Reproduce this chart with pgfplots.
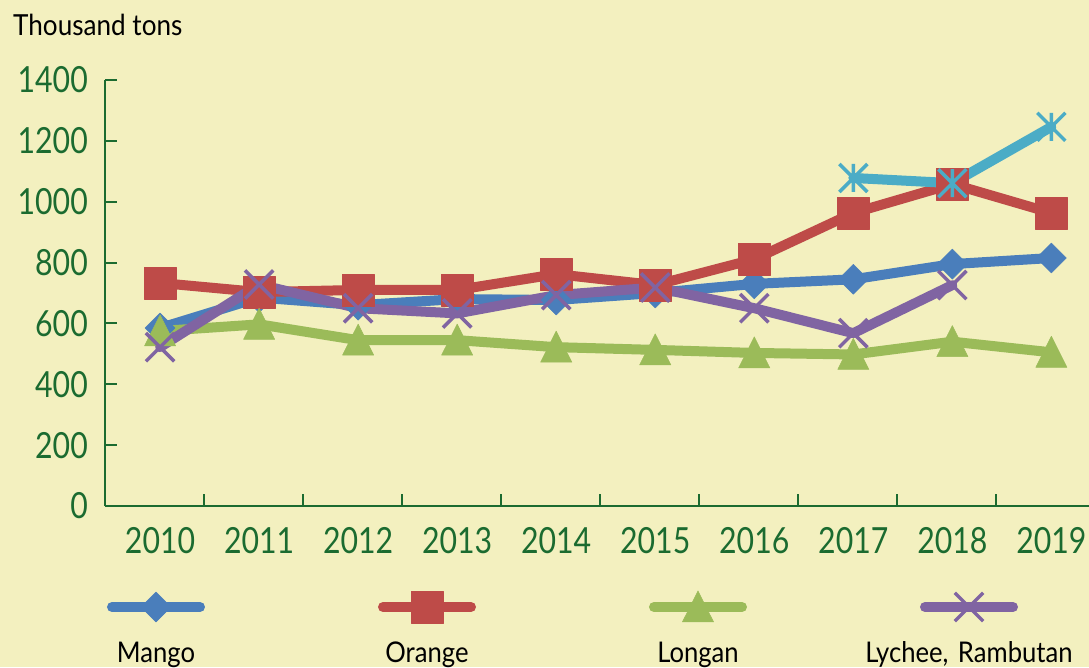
\documentclass[border=0pt]{standalone}
\usepackage{fontspec}
\setmainfont{Lato}[FakeStretch=0.9]
\newfontfamily\tickfont{Lato}[FakeStretch=0.84]
\usepackage{pgfplots}
\pgfplotsset{compat=1.18}
\definecolor{bgc}{RGB}{243,240,191}
\definecolor{axc}{RGB}{27,107,48}
\definecolor{cblue}{RGB}{74,126,187}
\definecolor{cred}{RGB}{190,75,72}
\definecolor{cgreen}{RGB}{155,187,89}
\definecolor{cpurple}{RGB}{128,100,162}
\definecolor{ccyan}{RGB}{75,172,198}
\pgfdeclareplotmark{starx}{%
 \pgfpathmoveto{\pgfqpoint{0pt}{-\pgfplotmarksize}}\pgfpathlineto{\pgfqpoint{0pt}{\pgfplotmarksize}}%
 \pgfpathmoveto{\pgfqpoint{-\pgfplotmarksize}{-\pgfplotmarksize}}\pgfpathlineto{\pgfqpoint{\pgfplotmarksize}{\pgfplotmarksize}}%
 \pgfpathmoveto{\pgfqpoint{-\pgfplotmarksize}{\pgfplotmarksize}}\pgfpathlineto{\pgfqpoint{\pgfplotmarksize}{-\pgfplotmarksize}}%
 \pgfusepathqstroke}
\begin{document}
\begin{tikzpicture}
\fill[bgc] (0,0) rectangle (1089pt,667pt);
\begin{axis}[
  at={(105pt,161pt)}, anchor=south west,
  scale only axis, width=984pt, height=426pt,
  xmin=-0.556, xmax=9.38, ymin=0, ymax=1400,
  axis x line*=bottom, axis y line*=left,
  axis line style={axc, line width=2pt},
  tick align=inside, major tick length=12pt,
  tick style={axc, line width=2pt},
  xtick={0.445,1.445,2.445,3.445,4.445,5.445,6.445,7.445,8.445},
  xticklabels={},
  extra x ticks={0,1,2,3,4,5,6,7,8,9},
  extra x tick labels={2010,2011,2012,2013,2014,2015,2016,2017,2018,2019},
  extra x tick style={major tick length=0pt, tick style={draw=none}},
  ytick={0,200,400,600,800,1000,1200,1400},
  /pgf/number format/1000 sep={},
  /pgf/number format/assume math mode=true,
  ticklabel style={font=\tickfont\fontsize{36}{40}\selectfont, text=axc},
  yticklabel style={anchor=east, inner sep=0pt, xshift=-17pt},
  xticklabel style={anchor=north, inner sep=0pt, yshift=-21pt},
  legend columns=4,
  legend style={at={(axis description cs:-0.08587,-0.385)}, anchor=south west,
    draw=none, fill=none, inner sep=0pt, outer sep=0pt, column sep=0pt, row sep=0pt,
    nodes={inner sep=0pt, text width=271pt, align=center, text depth=8pt,
      font=\fontsize{28.5}{34}\selectfont, anchor=base}},
  legend image code/.code={\draw[overlay, mark repeat=2, mark phase=2, #1] plot coordinates {(91.5pt,55pt) (135.5pt,55pt) (179.5pt,55pt)};},
  every axis plot/.append style={line width=10pt, line join=round, line cap=round},
]
\addplot[cblue, mark=square*, mark size=10.6pt, mark options={rotate=45, line width=0.5pt, fill=cblue, draw=cblue}]
 coordinates {(0,585) (1,685) (2,660) (3,680) (4,677) (5,700) (6,730) (7,745) (8,795) (9,815)};
\addplot[cred, mark=square*, mark size=16pt, mark options={line width=0.5pt, fill=cred, draw=cred}]
 coordinates {(0,733) (1,703) (2,710) (3,710) (4,762) (5,726) (6,811) (7,963) (8,1058) (9,963)};
\addplot[cgreen, mark=triangle*, mark size=18pt, mark options={line width=0.5pt, fill=cgreen, draw=cgreen, yscale=1.15, yshift=-4pt}]
 coordinates {(0,575) (1,597) (2,545) (3,545) (4,522) (5,513) (6,503) (7,498) (8,540) (9,505)};
\addplot[cpurple, mark=x, mark size=20pt, mark options={line width=3.5pt, line cap=butt}]
 coordinates {(0,522) (1,728) (2,650) (3,633) (4,693) (5,718) (6,650) (7,568) (8,726)};
\addplot[ccyan, mark=starx, mark size=14pt, mark options={line width=3.5pt, line cap=butt}, forget plot]
 coordinates {(7,1078) (8,1061) (9,1246)};
\legend{Mango,Orange,Longan,{Lychee, Rambutan}}
\end{axis}
\node[anchor=base west, inner sep=0pt, font=\fontsize{29}{34}\selectfont] at (13pt,631pt) {Thousand tons};
\pgfresetboundingbox
\path (0,0) rectangle (1089pt,667pt);
\end{tikzpicture}
\end{document}
